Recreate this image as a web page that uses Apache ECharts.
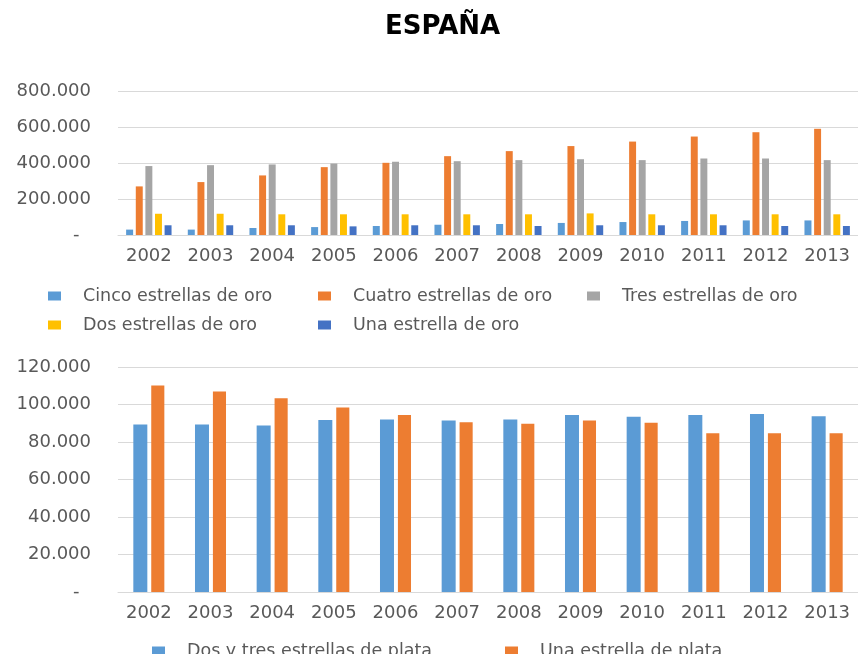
<!DOCTYPE html>
<html>
<head>
<meta charset="utf-8">
<script src="https://cdn.jsdelivr.net/npm/echarts@6/dist/echarts.min.js"></script>
<style>
  html, body { margin: 0; padding: 0; background: #fff; }
  #chart { width: 858px; height: 654px; }
</style>
</head>
<body>
<div id="chart"></div>
<script>
const years = ['2002', '2003', '2004', '2005', '2006', '2007', '2008', '2009', '2010', '2011', '2012', '2013'];

// estrellas de oro
const cincoOro = [30000, 30000, 39000, 44000, 50000, 57000, 61000, 67000, 72000, 78000, 81000, 81000];
const cuatroOro = [270000, 294000, 331000, 377000, 401000, 438000, 466000, 494000, 519000, 547000, 571000, 590000];
const tresOro = [383000, 388000, 392000, 397000, 407000, 410000, 416000, 421000, 416000, 425000, 425000, 416000];
const dosOro = [118000, 118000, 115000, 115000, 115000, 115000, 115000, 120000, 115000, 115000, 115000, 115000];
const unaOro = [54000, 54000, 54000, 48000, 54000, 54000, 50000, 54000, 54000, 54000, 50000, 50000];

// estrellas de plata
const dosTresPlata = [89400, 89400, 88800, 91700, 92000, 91500, 92000, 94400, 93500, 94400, 94900, 93800];
const unaPlata = [110200, 107000, 103400, 98400, 94400, 90600, 89700, 91500, 90300, 84700, 84700, 84700];

const FONT = 'DejaVu Sans';
const GRAY = '#595959';
const GRID_LINE = '#d9d9d9';

function fmt(v) {
  if (v === 0) return '-  ';
  return String(v).replace(/\B(?=(\d{3})+(?!\d))/g, '.');
}

function legendItem(name, left, top) {
  return {
    data: [name],
    left: left,
    top: top,
    itemWidth: 13,
    itemHeight: 9,
    icon: 'rect',
    selectedMode: false,
    textStyle: { fontFamily: FONT, fontSize: 17.5, color: GRAY, padding: [0, 0, 0, 17] }
  };
}

function barSerie(name, data, color, idx, extra) {
  return Object.assign({
    name: name,
    type: 'bar',
    xAxisIndex: idx,
    yAxisIndex: idx,
    data: data,
    itemStyle: { color: color },
    emphasis: { disabled: true }
  }, extra || {});
}

const chart = echarts.init(document.getElementById('chart'));

chart.setOption({
  animation: false,
  title: {
    text: 'ESPAÑA',
    left: 380,
    top: 9,
    textStyle: { fontFamily: FONT, fontSize: 26, fontWeight: 'bold', color: '#000' }
  },
  legend: [
    legendItem('Cinco estrellas de oro', 43, 282),
    legendItem('Cuatro estrellas de oro', 313, 282),
    legendItem('Tres estrellas de oro', 582, 282),
    legendItem('Dos estrellas de oro', 43, 311),
    legendItem('Una estrella de oro', 313, 311),
    legendItem('Dos y tres estrellas de plata', 147, 637),
    legendItem('Una estrella de plata', 500, 637)
  ],
  grid: [
    { left: 118, right: -3, top: 91, height: 144 },
    { left: 118, right: -3, top: 367, height: 225 }
  ],
  xAxis: [0, 1].map(i => ({
    type: 'category',
    gridIndex: i,
    data: years,
    axisTick: { show: false },
    axisLine: { lineStyle: { color: GRID_LINE } },
    axisLabel: { fontFamily: FONT, fontSize: 18, color: GRAY, margin: 12, interval: 0 }
  })),
  yAxis: [
    { max: 800000, interval: 200000 },
    { max: 120000, interval: 20000 }
  ].map((a, i) => ({
    type: 'value',
    gridIndex: i,
    min: 0,
    max: a.max,
    interval: a.interval,
    axisLine: { show: false },
    axisTick: { show: false },
    splitLine: { lineStyle: { color: GRID_LINE } },
    axisLabel: { fontFamily: FONT, fontSize: 18, color: GRAY, margin: 27, formatter: fmt }
  })),
  series: [
    barSerie('Cinco estrellas de oro', cincoOro, '#5B9BD5', 0, { barWidth: 7, barGap: '38%' }),
    barSerie('Cuatro estrellas de oro', cuatroOro, '#ED7D31', 0),
    barSerie('Tres estrellas de oro', tresOro, '#A5A5A5', 0),
    barSerie('Dos estrellas de oro', dosOro, '#FFC000', 0),
    barSerie('Una estrella de oro', unaOro, '#4472C4', 0),
    barSerie('Dos y tres estrellas de plata', dosTresPlata, '#5B9BD5', 1, { barWidth: 14, barGap: '28%' }),
    barSerie('Una estrella de plata', unaPlata, '#ED7D31', 1)
  ]
});
</script>
</body>
</html>
